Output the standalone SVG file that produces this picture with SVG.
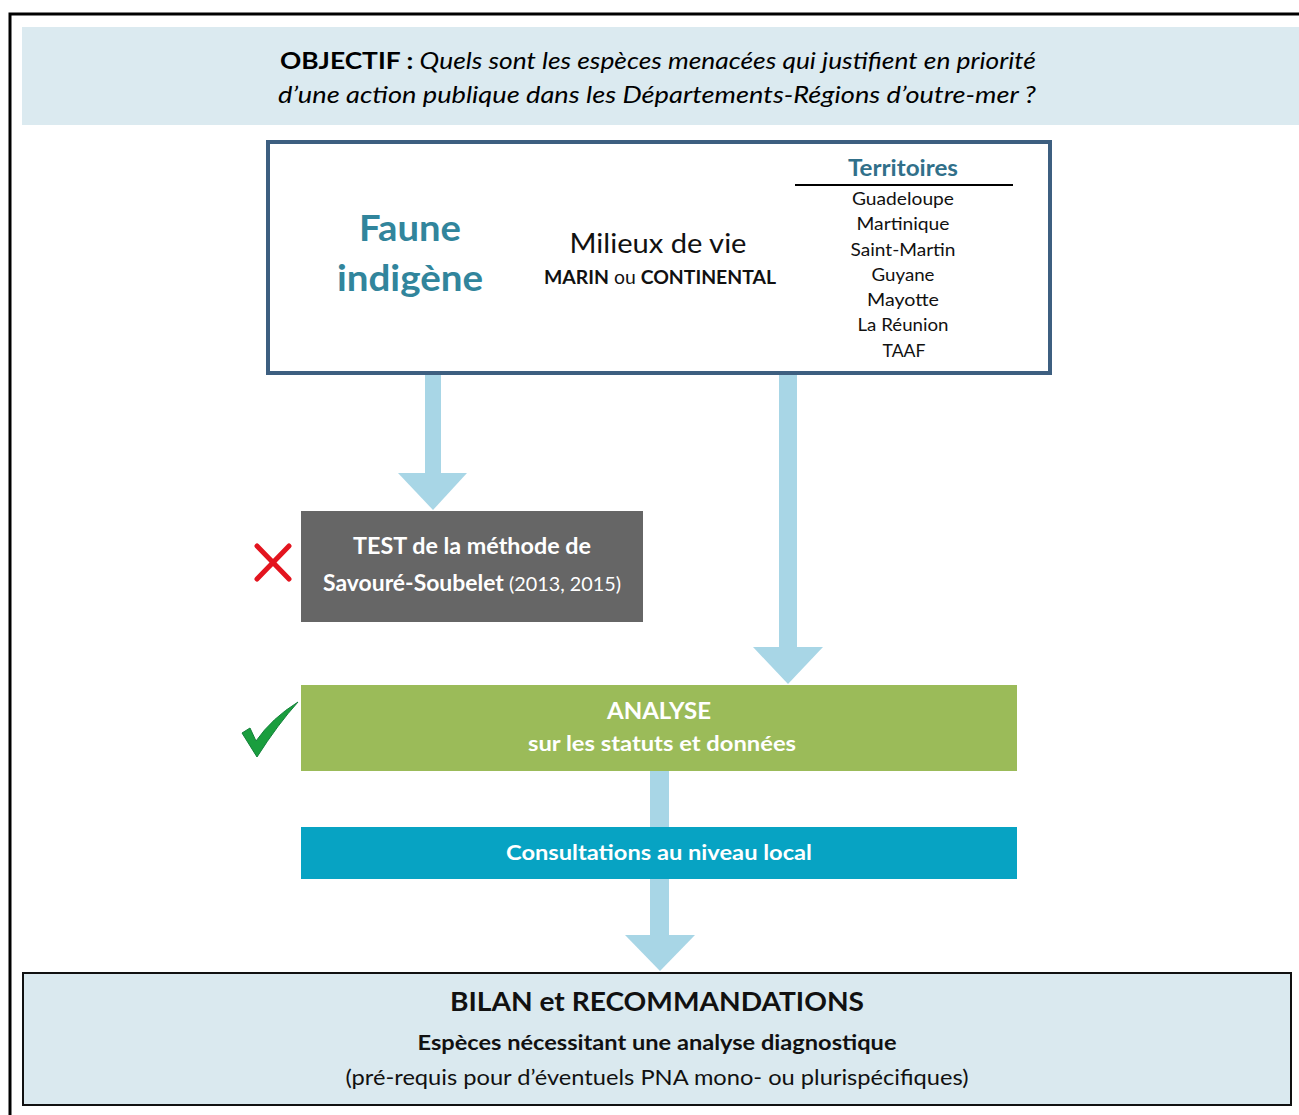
<svg xmlns="http://www.w3.org/2000/svg" width="1299" height="1115" viewBox="0 0 1299 1115">
<style>
  text { font-family: Lato, "Open Sans", "Liberation Sans", sans-serif; text-anchor: middle; }
  .b { font-weight: bold; }
  .w { fill: #ffffff; }
  .teal { fill: #31859c; font-weight: bold; }
  .terr { font-size: 17.5px; fill: #111; }
  .arrow { fill: #a8d6e6; }
</style>
<rect width="1299" height="1115" fill="#ffffff"/>
<path d="M10,1115 V14 H1299" fill="none" stroke="#000" stroke-width="3"/>

<g id="objectif">
  <rect x="22" y="27" width="1277" height="98" fill="#dbeaf0"/>
  <text x="658" y="69" font-size="23" textLength="756" lengthAdjust="spacingAndGlyphs"><tspan class="b">OBJECTIF : </tspan><tspan font-style="italic">Quels sont les espèces menacées qui justifient en priorité</tspan></text>
  <text x="657" y="103" font-size="23" font-style="italic" textLength="758" lengthAdjust="spacingAndGlyphs">d’une action publique dans les Départements-Régions d’outre-mer ?</text>
</g>

<g id="connectors">
  <rect class="arrow" x="425" y="375" width="16" height="99"/>
  <polygon class="arrow" points="398,473 467,473 433,510"/>
  <rect class="arrow" x="779" y="375" width="18" height="273"/>
  <polygon class="arrow" points="753,647 823,647 788,684"/>
  <rect class="arrow" x="650" y="771" width="19" height="56"/>
  <rect class="arrow" x="650" y="879" width="19" height="57"/>
  <polygon class="arrow" points="625,935 695,935 660,971"/>
</g>

<g id="faune">
  <rect x="268" y="142" width="782" height="231" fill="#ffffff" stroke="#3d5f80" stroke-width="4"/>
  <text class="teal" x="410" y="241" font-size="36" textLength="102" lengthAdjust="spacingAndGlyphs">Faune</text>
  <text class="teal" x="410" y="291" font-size="36" textLength="146" lengthAdjust="spacingAndGlyphs">indigène</text>
  <text x="658" y="253" font-size="27" fill="#111" textLength="177" lengthAdjust="spacingAndGlyphs">Milieux de vie</text>
  <text x="660" y="284" font-size="19" fill="#111" textLength="232" lengthAdjust="spacingAndGlyphs"><tspan class="b">MARIN</tspan> ou <tspan class="b">CONTINENTAL</tspan></text>
  <text x="903" y="176" font-size="22" fill="#31708a" class="b" textLength="110" lengthAdjust="spacingAndGlyphs">Territoires</text>
  <line x1="795" y1="185" x2="1013" y2="185" stroke="#000" stroke-width="2"/>
  <text class="terr" x="903" y="205" textLength="102" lengthAdjust="spacingAndGlyphs">Guadeloupe</text>
  <text class="terr" x="903" y="230" textLength="93" lengthAdjust="spacingAndGlyphs">Martinique</text>
  <text class="terr" x="903" y="256" textLength="105" lengthAdjust="spacingAndGlyphs">Saint-Martin</text>
  <text class="terr" x="903" y="281" textLength="63" lengthAdjust="spacingAndGlyphs">Guyane</text>
  <text class="terr" x="903" y="306" textLength="72" lengthAdjust="spacingAndGlyphs">Mayotte</text>
  <text class="terr" x="903" y="331" textLength="91" lengthAdjust="spacingAndGlyphs">La Réunion</text>
  <text class="terr" x="904" y="357" textLength="43" lengthAdjust="spacingAndGlyphs">TAAF</text>
</g>

<g id="test">
  <rect x="301" y="511" width="342" height="111" fill="#666666"/>
  <text class="w b" x="472" y="554" font-size="22" textLength="238" lengthAdjust="spacingAndGlyphs">TEST de la méthode de</text>
  <text class="w" x="472" y="591" font-size="22" textLength="298" lengthAdjust="spacingAndGlyphs"><tspan class="b">Savouré-Soubelet</tspan><tspan font-size="19"> (2013, 2015)</tspan></text>
  <g stroke="#e3141e" stroke-width="5" stroke-linecap="round">
    <line x1="257" y1="546" x2="289" y2="579"/>
    <line x1="289" y1="546" x2="257" y2="579"/>
  </g>
</g>

<g id="analyse">
  <rect x="301" y="685" width="716" height="86" fill="#9bbb59"/>
  <text class="w b" x="659" y="719" font-size="22" textLength="104" lengthAdjust="spacingAndGlyphs">ANALYSE</text>
  <text class="w b" x="662" y="751" font-size="21" textLength="268" lengthAdjust="spacingAndGlyphs">sur les statuts et données</text>
  <path d="M242,733 L250,728 L256,741 Q272,718 298,702 Q278,724 257,757 Z" fill="#1a9e3e" stroke="#13803a" stroke-width="1"/>
</g>

<g id="consultations">
  <rect x="301" y="827" width="716" height="52" fill="#07a3c3"/>
  <text class="w b" x="659" y="860" font-size="21" textLength="306" lengthAdjust="spacingAndGlyphs">Consultations au niveau local</text>
</g>

<g id="bilan">
  <rect x="23" y="973" width="1268" height="132" fill="#dae9ef" stroke="#111" stroke-width="2"/>
  <text class="b" x="657" y="1011" font-size="27" fill="#111" textLength="414" lengthAdjust="spacingAndGlyphs">BILAN et RECOMMANDATIONS</text>
  <text class="b" x="657" y="1050" font-size="21" fill="#111" textLength="479" lengthAdjust="spacingAndGlyphs">Espèces nécessitant une analyse diagnostique</text>
  <text x="657" y="1085" font-size="21" fill="#111" textLength="623" lengthAdjust="spacingAndGlyphs">(pré-requis pour d’éventuels PNA mono- ou plurispécifiques)</text>
</g>
</svg>
